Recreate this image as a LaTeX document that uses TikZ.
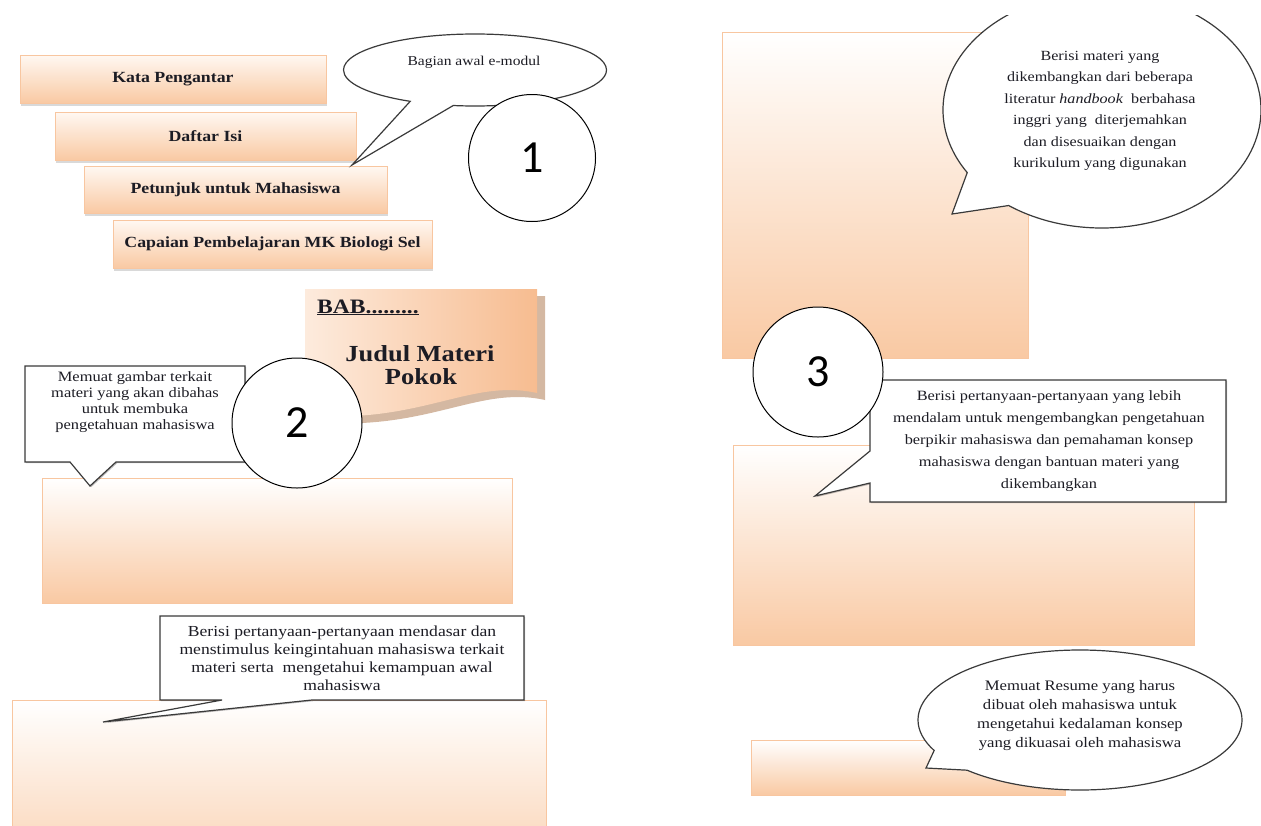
\documentclass[tikz,border=0pt]{standalone}
\usepackage{fontspec}
\setmainfont[FakeStretch=1.15]{Liberation Serif}
\newfontfamily\numfont{Carlito}
\usetikzlibrary{shapes.callouts,shapes.geometric,shadows,calc}
\definecolor{peach}{HTML}{F9C9A3}
\definecolor{peachtop}{HTML}{FFF8F2}
\definecolor{peachline}{HTML}{F8C6A0}
\definecolor{bubline}{HTML}{3A3A3A}
\definecolor{babL}{HTML}{FDEBDD}
\definecolor{babR}{HTML}{F7BC90}
\definecolor{babshadow}{HTML}{C29A7A}
\definecolor{txt}{HTML}{1C1C24}
\begin{document}
\begin{tikzpicture}[x=1pt,y=-1pt,
  tocbox/.style={draw=peachline, line width=0.9pt, top color=peachtop, bottom color=peach,
    inner sep=0pt, text=txt, font=\fontsize{15.5}{18}\selectfont\bfseries,
    drop shadow={shadow xshift=0.5pt, shadow yshift=-2.5pt, fill=black, opacity=0.15}},
  bigbox/.style={draw=peachline, line width=0.8pt, top color=white, bottom color=peach},
  bubble/.style={draw=bubline, line width=1.2pt, fill=white},
  rbubble/.style={bubble, drop shadow={shadow xshift=1.2pt, shadow yshift=-1.2pt, fill=black, opacity=0.25}},
  numcircle/.style={circle, draw=black, line width=1pt, fill=white, inner sep=0pt,
    minimum size=130pt, font=\numfont\fontsize{46}{46}\selectfont},
  btxt/.style={align=center, text=txt, inner sep=0pt}
]
\useasboundingbox (0,0) rectangle (1261,825);
\begin{scope}
\clip (0,0) rectangle (1261,825);

% ---------- left page ----------
\node[tocbox, minimum width=306pt, minimum height=48pt] (kp) at (173,79) {Kata Pengantar};
\node[tocbox, minimum width=301pt, minimum height=48pt] (di) at (205.5,136) {Daftar Isi};
\node[tocbox, minimum width=303pt, minimum height=47pt] (pm) at (235.5,189.5) {Petunjuk untuk Mahasiswa};
\node[tocbox, minimum width=319pt, minimum height=48pt] (cp) at (272.5,244) {Capaian Pembelajaran MK Biologi Sel};

% bubble 1
\node[bubble, ellipse callout, callout absolute pointer={(352,165)}, callout pointer arc=20,
  minimum width=263pt, minimum height=72pt, inner sep=0pt] (e1) at (475,70) {};
\node[btxt, font=\fontsize{13.5}{16}\selectfont] (t1) at (474,62) {Bagian awal e-modul};
\node[numcircle, minimum size=127pt] (n1) at (532,158) {1};

% BAB shape
\fill[babshadow, opacity=0.7] (313,296) -- (545,296) -- (545,400)
  .. controls (478,385) and (428,432) .. (313,422) -- cycle;
\shade[left color=babL, right color=babR] (305,289) -- (537,289) -- (537,393)
  .. controls (470,378) and (420,425) .. (305,415) -- cycle;
\node[anchor=base west, text=txt, inner sep=0pt, font=\fontsize{20.5}{20}\selectfont\bfseries] (bab) at (317,313) {\underline{BAB.........}};
\node[anchor=base, text=txt, inner sep=0pt, font=\fontsize{23}{23}\selectfont\bfseries] (jm) at (420,361) {Judul Materi};
\node[anchor=base, text=txt, inner sep=0pt, font=\fontsize{23}{23}\selectfont\bfseries] (pk) at (421,384) {Pokok};

% big boxes left
\draw[bigbox] (42,478) rectangle (512,603);
\draw[bigbox] (12,700) rectangle (546,905);

% callout A
\draw[rbubble] (25,366) -- (245,366) -- (245,462) -- (116,462) -- (90,486) -- (70,462) -- (25,462) -- cycle;
\node[btxt, font=\fontsize{14.3}{16}\selectfont] (tA) at (135,402) {Memuat gambar terkait\\materi yang akan dibahas\\untuk membuka\\pengetahuan mahasiswa};
\node[numcircle] (n2) at (297,423) {2};

% callout B
\draw[rbubble] (160,616) -- (524,616) -- (524,700) -- (312,700) -- (103,722) -- (222,700) -- (160,700) -- cycle;
\node[btxt, font=\fontsize{15.3}{18}\selectfont] (tB) at (342,658) {Berisi pertanyaan-pertanyaan mendasar dan\\menstimulus keingintahuan mahasiswa terkait\\materi serta\ \ mengetahui kemampuan awal\\mahasiswa};

% ---------- right page ----------
\draw[bigbox] (722,32) rectangle (1028,358);
\draw[bigbox] (733,445) rectangle (1194,645);
\draw[bigbox] (751,740) rectangle (1065,795);

\begin{scope}
\clip (0,15) rectangle (1261,825);
\node[bubble, ellipse callout, callout absolute pointer={(952,214)}, callout pointer arc=22,
  minimum width=318pt, minimum height=236pt, inner sep=0pt] (e2) at (1102,110) {};
\end{scope}
\node[btxt, font=\fontsize{14}{21.5}\selectfont] (t2) at (1100,111) {Berisi materi yang\\dikembangkan dari beberapa\\literatur \textit{handbook}\ \ berbahasa\\inggri yang\ \ diterjemahkan\\dan disesuaikan dengan\\kurikulum yang digunakan};

% callout C
\draw[rbubble] (870,380) -- (1226,380) -- (1226,502) -- (870,502) -- (870,483) -- (815,496) -- (870,451) -- cycle;
\node[btxt, font=\fontsize{14.2}{22}\selectfont] (tC) at (1049,441) {Berisi pertanyaan-pertanyaan yang lebih\\mendalam untuk mengembangkan pengetahuan\\berpikir mahasiswa dan pemahaman konsep\\mahasiswa dengan bantuan materi yang\\dikembangkan};
\node[numcircle] (n3) at (818,372) {3};

% bubble bottom right
\node[bubble, ellipse callout, callout absolute pointer={(926,768)}, callout pointer arc=20,
  minimum width=324pt, minimum height=140pt, inner sep=0pt] (e3) at (1080,720) {};
\node[btxt, font=\fontsize{14.5}{19}\selectfont] (t3) at (1080,716) {Memuat Resume yang harus\\dibuat oleh mahasiswa untuk\\mengetahui kedalaman konsep\\yang dikuasai oleh mahasiswa};
\end{scope}
\end{tikzpicture}
\end{document}
